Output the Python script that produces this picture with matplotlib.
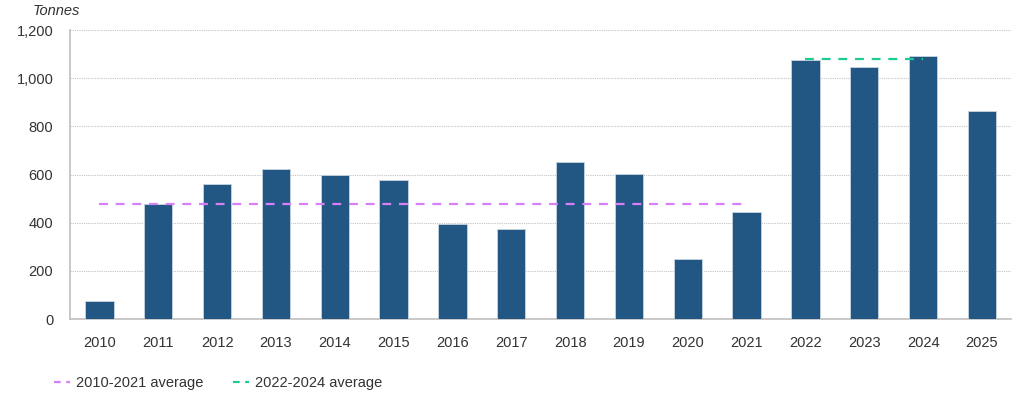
import matplotlib
matplotlib.use("Agg")
import matplotlib.pyplot as plt
from matplotlib.lines import Line2D

years = ["2010", "2011", "2012", "2013", "2014", "2015", "2016", "2017",
         "2018", "2019", "2020", "2021", "2022", "2023", "2024", "2025"]
values = [75, 477, 560, 623, 598, 577, 395, 374, 652, 602, 249, 444,
          1077, 1046, 1091, 864]
avg_2010_2021 = 477
avg_2022_2024 = 1078
yticks = [0, 200, 400, 600, 800, 1000, 1200]

plt.rcParams['font.family'] = ['Liberation Sans', 'DejaVu Sans']

fig = plt.figure(figsize=(10.33, 4.07), dpi=100)
ax = fig.add_axes([0.0678, 0.216, 0.9112, 0.71])

x = list(range(len(years)))
ax.bar(x, values, width=0.48, color="#225784", edgecolor="#c8d4e0", linewidth=0.6, zorder=3)

ax.plot([0, 11], [avg_2010_2021] * 2, color="#d77ff7", linestyle=(0, (4, 3.5)), linewidth=1.6, zorder=4)
ax.plot([12, 14], [avg_2022_2024] * 2, color="#1ccb93", linestyle=(0, (4, 3.5)), linewidth=1.6, zorder=4)

ax.set_xlim(-0.5, 15.5)
ax.set_ylim(0, 1200)
ax.set_xticks(x)
ax.set_xticklabels(years)
ax.set_yticks(yticks)
ax.set_yticklabels([f"{v:,}" for v in yticks])
ax.tick_params(axis="both", length=0, labelsize=10.5, colors="#333333")
ax.tick_params(axis="x", pad=12)
ax.tick_params(axis="y", pad=12)

ax.grid(axis="y", color="#c4c4c4", linestyle=(0, (1, 1)), linewidth=0.8, zorder=0)
for s in ["top", "right"]:
    ax.spines[s].set_visible(False)
for s in ["left", "bottom"]:
    ax.spines[s].set_color("#bfbfbf")
    ax.spines[s].set_linewidth(1.2)

fig.text(0.032, 0.955, "Tonnes", fontsize=10.5, style="italic", color="#333333", va="bottom")

handles = [
    Line2D([0], [0], color="#d77ff7", linestyle=(0, (3, 2.5)), linewidth=1.6),
    Line2D([0], [0], color="#1ccb93", linestyle=(0, (3, 2.5)), linewidth=1.6),
]
fig.legend(handles, ["2010-2021 average", "2022-2024 average"], loc="center left",
           bbox_to_anchor=(0.04, 0.058), ncol=2, frameon=False, fontsize=10.5,
           handlelength=1.1, handletextpad=0.4, columnspacing=2.0,
           labelcolor="#333333")

fig.savefig("out.png", dpi=100)
